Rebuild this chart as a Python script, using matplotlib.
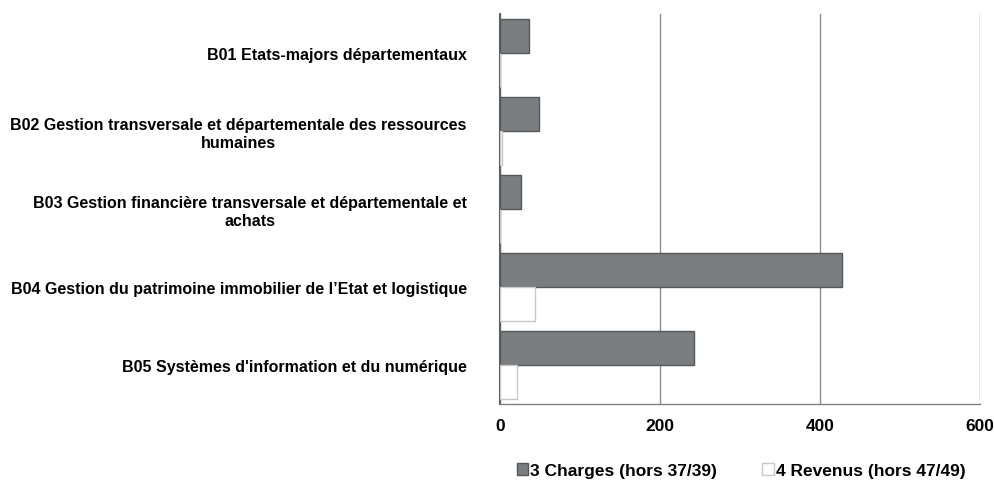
import numpy as np
import matplotlib.pyplot as plt

plt.rcParams['font.family'] = ['Liberation Sans', 'DejaVu Sans']

categories = [
    "B01 Etats-majors départementaux",
    "B02 Gestion transversale et départementale des ressources\nhumaines",
    "B03 Gestion financière transversale et départementale et\nachats",
    "B04 Gestion du patrimoine immobilier de l\u2019Etat et logistique",
    "B05 Systèmes d'information et du numérique",
]
charges = [36, 49, 26, 427, 243]
revenus = [0.5, 3, 0, 44, 21]
series_names = ["3 Charges (hors 37/39)", "4 Revenus (hors 47/49)"]

fig = plt.figure(figsize=(9.95, 4.81), dpi=100)
ax = fig.add_axes([0.5025, 0.158, 0.4825, 0.811])

y = np.arange(len(categories))
h = 0.44
ax.barh(y - h / 2, charges, height=h, color='#7b7e81', edgecolor='#55585a',
        linewidth=1.0, label=series_names[0], zorder=3)
ax.barh(y + h / 2, revenus, height=h, color='#ffffff', edgecolor='#c8c8c8',
        linewidth=1.0, label=series_names[1], zorder=3)

ax.set_ylim(len(categories) - 0.5, -0.5)
ax.set_xlim(0, 600)
ax.set_xticks([0, 200, 400, 600])
ax.set_yticks(y)
ax.set_yticklabels(categories, fontsize=11.5, fontweight='bold',
                   multialignment='center')
ax.tick_params(axis='y', length=0, pad=24)
ax.tick_params(axis='x', length=0, pad=10, labelsize=12.5)
for t in ax.get_xticklabels():
    t.set_fontweight('bold')

ax.grid(axis='x', color='#8c8c8c', linewidth=1.0, zorder=0)
for s in ['top', 'right']:
    ax.spines[s].set_visible(False)
ax.spines['left'].set_color('#606060')
ax.spines['left'].set_linewidth(1.5)
ax.spines['bottom'].set_color('#808080')
ax.spines['bottom'].set_linewidth(1.0)

leg = fig.legend(loc='center', bbox_to_anchor=(0.745, 0.019), ncol=2,
                 frameon=False, handlelength=0.65,
                 handleheight=0.65, handletextpad=0.15, columnspacing=2.6,
                 borderpad=0.0, prop={'weight': 'bold', 'size': 12.5})

fig.savefig('out.png', dpi=100)
